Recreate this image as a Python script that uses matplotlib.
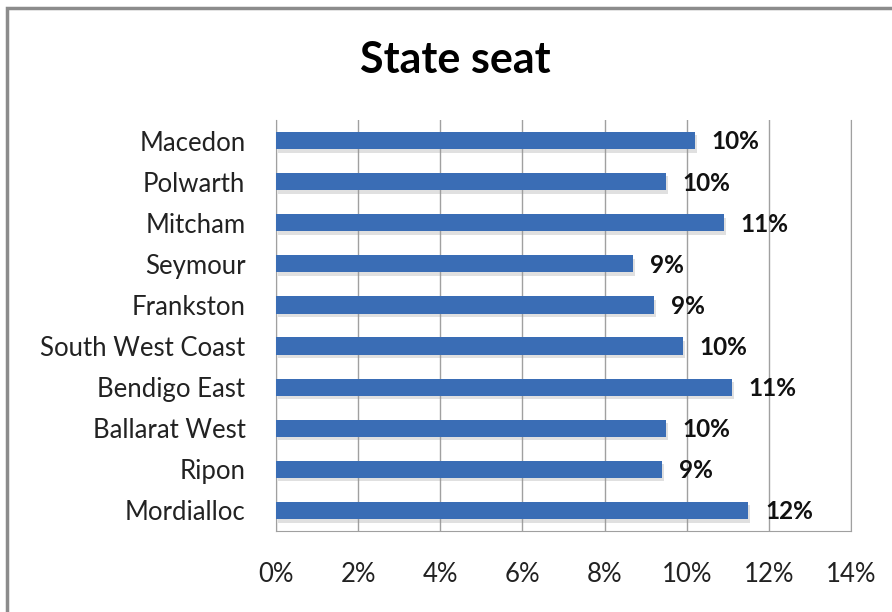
import matplotlib.pyplot as plt
import matplotlib.patches as mpatches
import matplotlib.patheffects as pe
from matplotlib.ticker import FuncFormatter

seats = ["Macedon", "Polwarth", "Mitcham", "Seymour", "Frankston",
         "South West Coast", "Bendigo East", "Ballarat West", "Ripon", "Mordialloc"]
shares = [0.102, 0.095, 0.109, 0.087, 0.092, 0.099, 0.111, 0.095, 0.094, 0.115]
labels = ["10%", "10%", "11%", "9%", "9%", "10%", "11%", "10%", "9%", "12%"]

plt.rcParams['font.family'] = ['Lato', 'DejaVu Sans']

fig = plt.figure(figsize=(8.92, 6.12), dpi=100)
ax = fig.add_axes([276 / 892, 1 - 531 / 612, 575 / 892, 411 / 612])

# outer chart border
fig.patches.append(mpatches.Rectangle((7 / 892, -0.5), 2, 1.5 - 8 / 612,
                                      transform=fig.transFigure, fill=False,
                                      edgecolor='#8c8c8c', linewidth=2.5))

pos = list(range(len(seats)))[::-1]
bars = ax.barh(pos, shares, height=0.42, color='#3A6DB5', zorder=3)
for b in bars:
    b.set_path_effects([pe.SimplePatchShadow(offset=(1.5, -2.5), shadow_rgbFace='#999999', alpha=0.3),
                        pe.Normal()])

for y, v, t in zip(pos, shares, labels):
    ax.annotate(t, (v, y), xytext=(12, -1), textcoords='offset points',
                va='center', ha='left', fontsize=17.5, fontweight='bold', color='#111111')

ax.set_xlim(0, 0.14)
ax.set_ylim(-0.5, len(seats) - 0.5)
ax.set_xticks([i * 0.02 for i in range(8)])
ax.xaxis.set_major_formatter(FuncFormatter(lambda x, _: f"{round(x * 100)}%"))
ax.set_yticks(pos)
ax.set_yticklabels(seats)
ax.tick_params(axis='both', length=0, labelsize=18.5, colors='#222222')
ax.tick_params(axis='x', pad=22)
ax.tick_params(axis='y', pad=22)

ax.grid(axis='x', color='#a0a0a0', linewidth=1, zorder=0)
ax.set_axisbelow(True)
for side in ['left', 'bottom', 'right']:
    ax.spines[side].set_color('#a0a0a0')
ax.spines['top'].set_visible(False)

fig.text(455 / 892, 1 - 60 / 612, "State seat", ha='center', va='center',
         fontsize=31, fontweight='bold', color='#000000')

fig.savefig("out.png", dpi=100)
